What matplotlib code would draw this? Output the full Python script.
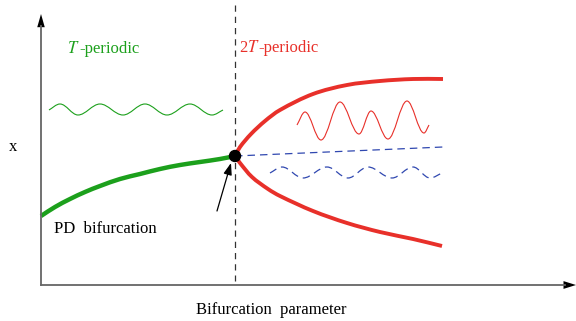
import matplotlib
matplotlib.use("Agg")
from matplotlib import pyplot as plt
from matplotlib.path import Path
from matplotlib.patches import PathPatch, FancyArrowPatch, Circle
import numpy as np

# schematic traced in picture pixels (x right, y down)
green_branch_x = [41, 55, 70, 85, 100, 120, 140, 160, 180, 200, 220, 235]
green_branch_y = [216, 207, 199, 192, 186, 179, 174, 169, 165, 162, 159, 156]

red_upper_x = [235, 240, 251, 265, 280, 313, 347, 380, 413, 443]
red_upper_y = [156, 147, 134, 121, 110, 94, 85, 81, 79, 79]
red_lower_x = [235, 240, 252, 268, 280, 313, 347, 380, 413, 442]
red_lower_y = [156, 163, 177, 189, 196, 211, 223, 232, 239, 246]

unstable_x = [235, 443]
unstable_y = [156, 147]

green_wave_x = [49, 60, 78, 100, 123, 145, 167, 190, 212, 223]
green_wave_y = [110, 104, 115, 104, 115, 104, 115, 104, 115, 110]

red_wave_x = [297, 305, 321, 340, 359, 371, 388, 407, 424, 429]
red_wave_y = [125, 112, 140, 102, 134, 111, 139, 101, 133, 125]

blue_wave_x = [270, 282, 303, 327, 348, 368, 392, 413, 430, 442]
blue_wave_y = [173, 167, 178, 167, 178, 167, 178, 167, 178, 173]

pd_point = (235, 156)

GREEN = "#1ca01c"
RED = "#e8302a"
BLUE = "#3048b0"


def smooth_path(xs, ys):
    # chord-length Catmull-Rom through the traced points, as cubic Beziers
    pts = np.column_stack([xs, ys]).astype(float)
    n = len(pts)
    d = np.hypot(*np.diff(pts, axis=0).T)
    tang = np.zeros_like(pts)
    tang[0] = (pts[1] - pts[0]) / d[0]
    tang[-1] = (pts[-1] - pts[-2]) / d[-1]
    for i in range(1, n - 1):
        tang[i] = (pts[i + 1] - pts[i - 1]) / (d[i - 1] + d[i])
    verts = [pts[0]]
    codes = [Path.MOVETO]
    for i in range(n - 1):
        verts += [pts[i] + tang[i] * d[i] / 3, pts[i + 1] - tang[i + 1] * d[i] / 3, pts[i + 1]]
        codes += [Path.CURVE4] * 3
    return Path(verts, codes)


def wave_path(xs, ys):
    # extremes joined with flat tangents, like a sine
    pts = np.column_stack([xs, ys]).astype(float)
    verts = [pts[0]]
    codes = [Path.MOVETO]
    for i in range(len(pts) - 1):
        p1, p2 = pts[i], pts[i + 1]
        dx = (p2[0] - p1[0]) * 0.36
        c1 = p1 + [dx, 0] if i > 0 else p1 + (p2 - p1) * 0.3
        c2 = p2 - [dx, 0] if i < len(pts) - 2 else p2 - (p2 - p1) * 0.3
        verts += [c1, c2, p2]
        codes += [Path.CURVE4] * 3
    return Path(verts, codes)


def draw(ax, path, **kw):
    ax.add_patch(PathPatch(path, fill=False, capstyle="butt", **kw))


plt.rcParams["font.family"] = ["Liberation Serif", "DejaVu Serif"]
fig = plt.figure(figsize=(5.76, 3.21), dpi=100)
ax = fig.add_axes([0, 0, 1, 1])
ax.set_xlim(0, 576)
ax.set_ylim(321, 0)
ax.axis("off")

# axes with arrow heads
ax.plot([41, 41], [285, 26], color="#666666", lw=1.3)
ax.plot([41, 565], [285, 285], color="#666666", lw=1.3)
ax.add_patch(FancyArrowPatch((41, 28), (41, 14), arrowstyle="-|>,head_length=9.5,head_width=2.7",
                             color="black", lw=0, mutation_scale=1, shrinkA=0, shrinkB=0))
ax.add_patch(FancyArrowPatch((563, 285), (576, 285), arrowstyle="-|>,head_length=9,head_width=2.8",
                             color="black", lw=0, mutation_scale=1, shrinkA=0, shrinkB=0))

# bifurcation line
ax.plot([235, 235], [5, 281], color="#333333", lw=0.9, dashes=(5, 4))

draw(ax, smooth_path(green_branch_x, green_branch_y), color=GREEN, lw=3.2)
draw(ax, smooth_path(red_upper_x, red_upper_y), color=RED, lw=2.8)
draw(ax, smooth_path(red_lower_x, red_lower_y), color=RED, lw=2.8)
ax.plot(unstable_x, unstable_y, color=BLUE, lw=0.9, dashes=(6, 4))

draw(ax, wave_path(green_wave_x, green_wave_y), color=GREEN, lw=0.8)
draw(ax, wave_path(red_wave_x, red_wave_y), color=RED, lw=0.8)
draw(ax, wave_path(blue_wave_x, blue_wave_y), color=BLUE, lw=0.9, linestyle=(0, (6, 4)))

ax.add_patch(Circle(pd_point, 5.5, color="black", zorder=5))
ax.add_patch(FancyArrowPatch((217, 211), (231, 163), arrowstyle="-|>,head_length=7,head_width=2.5",
                             color="black", lw=0.9, mutation_scale=1, shrinkA=0, shrinkB=0))

fs = 12
ax.text(67, 49, "$T$", color=GREEN, fontsize=fs, va="center", ha="left",
        math_fontfamily="stix")
ax.text(79, 49, "-periodic", color=GREEN, fontsize=fs, va="center", ha="left")
ax.text(239, 48, "2$T$", color=RED, fontsize=fs, va="center", ha="left",
        math_fontfamily="stix")
ax.text(258, 48, "-periodic", color=RED, fontsize=fs, va="center", ha="left")
ax.text(13, 147, "x", fontsize=fs, va="center", ha="center")
ax.text(54, 229, "PD  bifurcation", fontsize=fs, va="center", ha="left")
ax.text(271, 310, "Bifurcation  parameter", fontsize=fs, va="center", ha="center")

fig.savefig("out.png", dpi=100)
